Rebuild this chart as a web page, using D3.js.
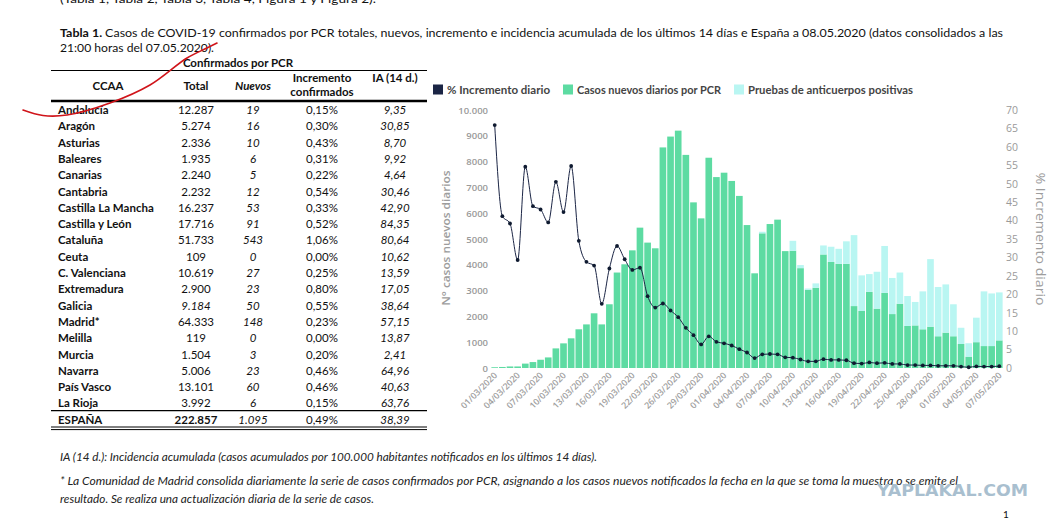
<!DOCTYPE html>
<html>
<head>
<meta charset="utf-8">
<script src="https://cdn.jsdelivr.net/npm/d3@7"></script>
<style>
  body { margin: 0; background: #fff; }
  svg { display: block; }
</style>
</head>
<body>
<div id="page"></div>
<script>
/* table data */
const regions = ["Andalucía", "Aragón", "Asturias", "Baleares", "Canarias", "Cantabria",
  "Castilla La Mancha", "Castilla y León", "Cataluña", "Ceuta", "C. Valenciana", "Extremadura",
  "Galicia", "Madrid*", "Melilla", "Murcia", "Navarra", "País Vasco", "La Rioja"]
const totals = ["12.287", "5.274", "2.336", "1.935", "2.240", "2.232", "16.237", "17.716", "51.733",
  "109", "10.619", "2.900", "9.184", "64.333", "119", "1.504", "5.006", "13.101", "3.992"]
const nuevos = ["19", "16", "10", "6", "5", "12", "53", "91", "543", "0", "27", "23", "50", "148",
  "0", "3", "23", "60", "6"]
const incremento = ["0,15%", "0,30%", "0,43%", "0,31%", "0,22%", "0,54%", "0,33%", "0,52%", "1,06%",
  "0,00%", "0,25%", "0,80%", "0,55%", "0,23%", "0,00%", "0,20%", "0,46%", "0,46%", "0,15%"]
const ia14 = ["9,35", "30,85", "8,70", "9,92", "4,64", "30,46", "42,90", "84,35", "80,64", "10,62",
  "13,59", "17,05", "38,64", "57,15", "13,87", "2,41", "64,96", "40,63", "63,76"]
const espana = ["ESPAÑA", "222.857", "1.095", "0,49%", "38,39"]

/* chart data */
const dates = [
  "01/03/2020", "02/03/2020", "03/03/2020", "04/03/2020", "05/03/2020", "06/03/2020", "07/03/2020",
  "08/03/2020", "09/03/2020", "10/03/2020", "11/03/2020", "12/03/2020", "13/03/2020", "14/03/2020",
  "15/03/2020", "16/03/2020", "17/03/2020", "18/03/2020", "19/03/2020", "20/03/2020", "21/03/2020",
  "22/03/2020", "23/03/2020", "25/03/2020", "26/03/2020", "27/03/2020", "28/03/2020", "29/03/2020",
  "30/03/2020", "31/03/2020", "01/04/2020", "02/04/2020", "03/04/2020", "04/04/2020", "05/04/2020",
  "06/04/2020", "07/04/2020", "08/04/2020", "09/04/2020", "10/04/2020", "11/04/2020", "12/04/2020",
  "13/04/2020", "14/04/2020", "15/04/2020", "16/04/2020", "17/04/2020", "18/04/2020", "19/04/2020",
  "20/04/2020", "21/04/2020", "22/04/2020", "23/04/2020", "24/04/2020", "25/04/2020", "26/04/2020",
  "27/04/2020", "28/04/2020", "29/04/2020", "30/04/2020", "01/05/2020", "02/05/2020", "03/05/2020",
  "04/05/2020", "05/05/2020", "06/05/2020", "07/05/2020"]
const casosPCR = [30, 40, 60, 60, 170, 230, 320, 410, 760, 955, 1150, 1500, 1690, 2120, 1690, 2470,
  3700, 4020, 4560, 5440, 4860, 4640, 8550, 8970, 9200, 8260, 6420, 5800, 8150, 7400, 7570, 7250,
  6670, 5540, 3670, 5220, 5580, 5750, 4530, 4540, 3870, 3030, 3110, 4400, 4110, 4040, 4040, 2400,
  2210, 2950, 2300, 2910, 2090, 2490, 1630, 1650, 1500, 1600, 1230, 1370, 1230, 930, 440, 1000,
  850, 850, 1070]
const anticuerpos = [0, 0, 0, 0, 0, 0, 0, 0, 0, 0, 0, 0, 0, 0, 0, 0, 0, 0, 0, 0, 0, 0, 0, 0, 0, 0,
  0, 0, 0, 0, 0, 0, 0, 0, 0, 60, 0, 0, 0, 390, 120, 50, 170, 350, 590, 580, 870, 2750, 1380, 690,
  1430, 1820, 1400, 1210, 1160, 910, 1470, 2620, 1910, 1870, 1240, 630, 520, 950, 2120, 2040, 1860]
const incrementoDiario = [65.9, 41.2, 39.2, 29.3, 54.6, 43.9, 43.0, 39.5, 50.5, 42.3, 54.8, 34.5,
  28.8, 27.8, 17.4, 27.0, 33.1, 29.5, 26.6, 27.2, 19.5, 16.4, 17.5, 15.6, 13.8, 10.9, 8.9, 6.4, 8.6,
  7.1, 6.7, 6.1, 5.1, 4.2, 2.7, 3.7, 3.8, 3.7, 2.9, 2.8, 2.3, 1.8, 1.8, 2.4, 2.2, 2.2, 2.1, 1.3, 1.2,
  1.5, 1.3, 1.4, 1.1, 1.1, 0.8, 0.8, 0.7, 0.7, 0.6, 0.6, 0.6, 0.4, 0.2, 0.45, 0.4, 0.4, 0.5]
const leftTicks = [0, 1000, 2000, 3000, 4000, 5000, 6000, 7000, 8000, 9000, 10000]
const rightTicks = [0, 5, 10, 15, 20, 25, 30, 35, 40, 45, 50, 55, 60, 65, 70]
const legendItems = ["% Incremento diario", "Casos nuevos diarios por PCR", "Pruebas de anticuerpos positivas"]

const width = 1054
const height = 520
const docFont = "Lato, 'Open Sans', sans-serif"
const chartFont = "'Open Sans', Lato, sans-serif"

const green = "#5ddba2"
const cyan = "#b9f6f2"
const navy = "#1b2545"

const svg = d3.select("#page").append("svg")
  .attr("width", width)
  .attr("height", height)
  .attr("viewBox", `0 0 ${width} ${height}`)

/* document text */
const doc = svg.append("g").attr("font-family", docFont).attr("fill", "#111")

// first line is cut by the top edge, like in the scan
doc.append("text")
  .attr("x", 60).attr("y", 3).attr("font-size", 12)
  .attr("textLength", 316).attr("lengthAdjust", "spacingAndGlyphs")
  .text("(Tabla 1, Tabla 2, Tabla 3, Tabla 4, Figura 1 y Figura 2).")

const title = doc.append("text")
  .attr("x", 60).attr("y", 37).attr("font-size", 11.5)
  .attr("textLength", 943).attr("lengthAdjust", "spacingAndGlyphs")
title.append("tspan").attr("font-weight", "bold").text("Tabla 1. ")
title.append("tspan").text("Casos de COVID-19 confirmados por PCR totales, nuevos, incremento e incidencia acumulada de los últimos 14 días e España a 08.05.2020 (datos consolidados a las")

doc.append("text")
  .attr("x", 60).attr("y", 52).attr("font-size", 11.5)
  .attr("textLength", 154).attr("lengthAdjust", "spacingAndGlyphs")
  .text("21:00 horas del 07.05.2020).")

/* table */
const table = svg.append("g").attr("font-family", docFont).attr("fill", "#111")
const tLeft = 51
const tRight = 427
const colX = { total: 196, nuevos: 253, inc: 322, ia: 395 }
const rowY = d3.scaleLinear().domain([0, 1]).range([114, 130.3])

table.append("text").attr("x", 238).attr("y", 67).attr("text-anchor", "middle")
  .attr("font-size", 11.5).attr("font-weight", "bold").text("Confirmados por PCR")

table.append("line").attr("x1", tLeft).attr("x2", tRight).attr("y1", 70.5).attr("y2", 70.5)
  .attr("stroke", "#000").attr("stroke-width", 1.2)

const head = table.append("g").attr("font-size", 11.5).attr("font-weight", "bold").attr("text-anchor", "middle")
head.append("text").attr("x", 108).attr("y", 90).text("CCAA")
head.append("text").attr("x", colX.total).attr("y", 90).text("Total")
head.append("text").attr("x", colX.nuevos).attr("y", 90).attr("font-style", "italic").text("Nuevos")
head.append("text").attr("x", colX.inc).attr("y", 82).text("Incremento")
head.append("text").attr("x", colX.inc).attr("y", 96).text("confirmados")
head.append("text").attr("x", colX.ia).attr("y", 82).text("IA (14 d.)")

table.append("line").attr("x1", tLeft).attr("x2", tRight).attr("y1", 101).attr("y2", 101)
  .attr("stroke", "#000").attr("stroke-width", 2.5)

const rows = table.selectAll("g.row")
  .data(regions)
  .join("g")
  .attr("class", "row")
  .attr("font-size", 11.5)
  .attr("transform", (d, i) => `translate(0,${rowY(i)})`)

rows.append("text").attr("x", 58).attr("font-weight", "bold").text(d => d)
rows.append("text").attr("x", colX.total).attr("text-anchor", "middle")
  .attr("font-style", (d, i) => regions[i] === "Galicia" ? "italic" : "normal")
  .text((d, i) => totals[i])
rows.append("text").attr("x", colX.nuevos).attr("text-anchor", "middle").attr("font-style", "italic")
  .text((d, i) => nuevos[i])
rows.append("text").attr("x", colX.inc).attr("text-anchor", "middle").text((d, i) => incremento[i])
rows.append("text").attr("x", colX.ia).attr("text-anchor", "middle").attr("font-style", "italic")
  .text((d, i) => ia14[i])

table.append("line").attr("x1", tLeft).attr("x2", tRight).attr("y1", 410.7).attr("y2", 410.7)
  .attr("stroke", "#000").attr("stroke-width", 1.2)

const tot = table.append("g").attr("font-size", 11.5).attr("transform", "translate(0,424)")
tot.append("text").attr("x", 58).attr("font-weight", "bold").text(espana[0])
tot.append("text").attr("x", colX.total).attr("text-anchor", "middle").attr("font-weight", "bold").text(espana[1])
tot.append("text").attr("x", colX.nuevos).attr("text-anchor", "middle").attr("font-style", "italic").text(espana[2])
tot.append("text").attr("x", colX.inc).attr("text-anchor", "middle").text(espana[3])
tot.append("text").attr("x", colX.ia).attr("text-anchor", "middle").attr("font-style", "italic").text(espana[4])

table.append("line").attr("x1", tLeft).attr("x2", tRight).attr("y1", 427).attr("y2", 427)
  .attr("stroke", "#000").attr("stroke-width", 1)
table.append("line").attr("x1", tLeft).attr("x2", tRight).attr("y1", 429.6).attr("y2", 429.6)
  .attr("stroke", "#000").attr("stroke-width", 1)

/* chart */
const chart = svg.append("g").attr("font-family", chartFont)

const x = d3.scaleBand().domain(dates).range([491, 1003]).paddingInner(0.13).paddingOuter(0.05)
const y = d3.scaleLinear().domain([0, 10000]).range([368, 110])
const yPct = d3.scaleLinear().domain([0, 70]).range([368, 110])

/* stacked bars */
const stackData = dates.map((d, i) => ({ date: d, pcr: casosPCR[i], anti: anticuerpos[i] }))
const stacked = d3.stack().keys(["pcr", "anti"])(stackData)
const barColor = { pcr: green, anti: cyan }

chart.append("g")
  .selectAll("g")
  .data(stacked)
  .join("g")
  .attr("fill", s => barColor[s.key])
  .selectAll("rect")
  .data(s => s)
  .join("rect")
  .attr("x", d => x(d.data.date))
  .attr("width", x.bandwidth())
  .attr("y", d => y(d[1]))
  .attr("height", d => y(d[0]) - y(d[1]))

/* left axis */
const leftAxis = chart.append("g")
  .attr("transform", "translate(488,0)")
  .call(d3.axisLeft(y).tickValues(leftTicks).tickSize(0).tickPadding(0)
    .tickFormat(v => v === 10000 ? "10.000" : String(v)))
leftAxis.select(".domain").remove()
leftAxis.selectAll("text").attr("font-size", 9.5).attr("font-weight", 600).attr("fill", "#9a9a9a")
  .attr("font-family", chartFont)

/* right axis */
const rightAxis = chart.append("g")
  .attr("transform", "translate(1006,0)")
  .call(d3.axisRight(yPct).tickValues(rightTicks).tickSize(0).tickPadding(0))
rightAxis.select(".domain").remove()
rightAxis.selectAll("text").attr("font-size", 10.5).attr("fill", "#9a9a9a").attr("font-family", chartFont)

/* x labels */
const xAxis = chart.append("g")
  .attr("transform", "translate(0,368)")
  .call(d3.axisBottom(x).tickValues(dates.filter((d, i) => i % 3 === 0)).tickSize(0).tickPadding(0))
xAxis.select(".domain").remove()
xAxis.selectAll("text")
  .attr("font-size", 8.8)
  .attr("font-weight", 600)
  .attr("fill", "#a0a0a0")
  .attr("font-family", chartFont)
  .attr("text-anchor", "end")
  .attr("dy", 0)
  .attr("transform", "translate(3,8) rotate(-45)")

/* axis titles */
chart.append("text")
  .attr("transform", "translate(450,238) rotate(-90)")
  .attr("text-anchor", "middle")
  .attr("font-size", 11.5).attr("font-weight", 600).attr("fill", "#9d9d9d")
  .attr("textLength", 135).attr("lengthAdjust", "spacingAndGlyphs")
  .text("N° casos nuevos diarios")

chart.append("text")
  .attr("transform", "translate(1036,239) rotate(90)")
  .attr("text-anchor", "middle")
  .attr("font-size", 12.5).attr("fill", "#9d9d9d")
  .attr("textLength", 133).attr("lengthAdjust", "spacingAndGlyphs")
  .text("% Incremento diario")

/* line */
const line = d3.line()
  .x((d, i) => x(dates[i]) + x.bandwidth() / 2)
  .y(d => yPct(d))
  .curve(d3.curveMonotoneX)

chart.append("path")
  .datum(incrementoDiario)
  .attr("d", line)
  .attr("fill", "none")
  .attr("stroke", navy)
  .attr("stroke-width", 1)

chart.append("g")
  .selectAll("circle")
  .data(incrementoDiario)
  .join("circle")
  .attr("cx", (d, i) => x(dates[i]) + x.bandwidth() / 2)
  .attr("cy", d => yPct(d))
  .attr("r", 1.9)
  .attr("fill", "#0f1a30")

/* legend */
const legendX = [433, 563, 734]
const legendW = [103, 144, 165]
const legendColor = [navy, green, cyan]
const legend = chart.append("g").attr("transform", "translate(0,84.5)")
legendItems.forEach((name, i) => {
  legend.append("rect").attr("x", legendX[i]).attr("y", 0).attr("width", 10).attr("height", 10)
    .attr("fill", legendColor[i])
  legend.append("text").attr("x", legendX[i] + 14).attr("y", 9)
    .attr("font-family", docFont).attr("font-size", 10.5).attr("font-weight", "bold").attr("fill", "#444")
    .attr("textLength", legendW[i]).attr("lengthAdjust", "spacingAndGlyphs")
    .text(name)
})

/* footnotes */
const notes = svg.append("g").attr("font-family", docFont).attr("font-style", "italic")
  .attr("font-size", 10.5).attr("fill", "#222")
notes.append("text").attr("x", 60).attr("y", 461)
  .attr("textLength", 537).attr("lengthAdjust", "spacingAndGlyphs")
  .text("IA (14 d.): Incidencia acumulada (casos acumulados por 100.000 habitantes notificados en los últimos 14 días).")
notes.append("text").attr("x", 60).attr("y", 485)
  .attr("textLength", 898).attr("lengthAdjust", "spacingAndGlyphs")
  .text("* La Comunidad de Madrid consolida diariamente la serie de casos confirmados por PCR, asignando a los casos nuevos notificados la fecha en la que se toma la muestra o se emite el")
notes.append("text").attr("x", 60).attr("y", 503)
  .attr("textLength", 314).attr("lengthAdjust", "spacingAndGlyphs")
  .text("resultado. Se realiza una actualización diaria de la serie de casos.")

/* watermark and page number */
svg.append("text").attr("x", 877).attr("y", 496)
  .attr("font-family", "'Liberation Sans Narrow', 'DejaVu Sans Condensed', sans-serif")
  .attr("font-size", 16).attr("font-weight", "bold").attr("fill", "#a9bfcf")
  .attr("textLength", 151).attr("lengthAdjust", "spacingAndGlyphs")
  .text("YAPLAKAL.COM")
svg.append("text").attr("x", 1003).attr("y", 518)
  .attr("font-family", docFont).attr("font-size", 10).attr("fill", "#111").text("1")

/* red pen mark over the table */
const penMark = [[23, 110], [43, 115.5], [67, 115], [110, 103], [150, 85], [187, 58], [207, 48], [217, 43]]
svg.append("path")
  .datum(penMark)
  .attr("d", d3.line().curve(d3.curveCatmullRom))
  .attr("fill", "none")
  .attr("stroke", "#d0141a")
  .attr("stroke-width", 1.6)
  .attr("stroke-linecap", "round")
</script>
</body>
</html>
